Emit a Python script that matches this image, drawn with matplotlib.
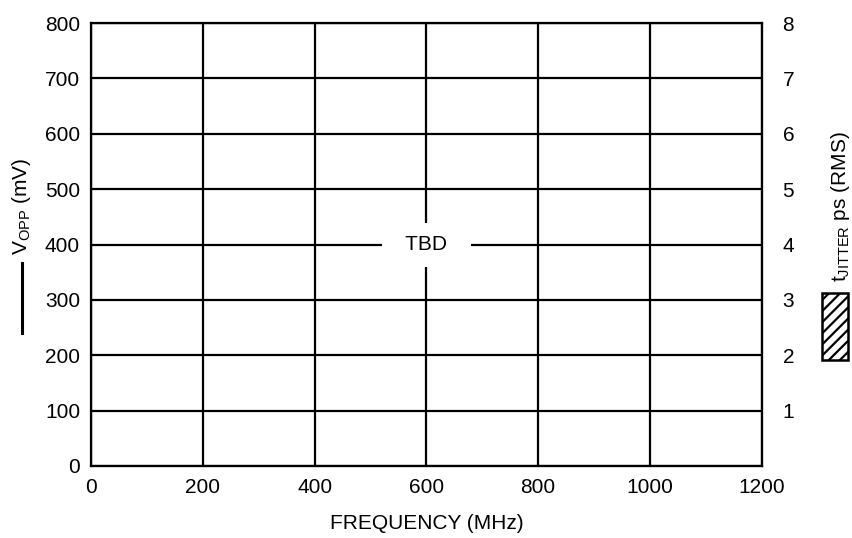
import matplotlib
matplotlib.use("Agg")
import matplotlib.pyplot as plt
from matplotlib.lines import Line2D
from matplotlib.patches import Rectangle

plt.rcParams['font.family'] = ['Liberation Sans', 'DejaVu Sans']
plt.rcParams['hatch.linewidth'] = 1.6

# Dane wykresu (brak serii - tylko siatka i "TBD")
freq_ticks = [0, 200, 400, 600, 800, 1000, 1200]
vopp_ticks = [0, 100, 200, 300, 400, 500, 600, 700, 800]
jitter_ticks = [1, 2, 3, 4, 5, 6, 7, 8]
note_text = "TBD"
note_pos = (600, 400)

FS = 15

fig = plt.figure(figsize=(8.52, 5.38), dpi=100)
ax = fig.add_axes([0.107, 0.134, 0.787, 0.823])

ax.set_xlim(freq_ticks[0], freq_ticks[-1])
ax.set_ylim(vopp_ticks[0], vopp_ticks[-1])
ax.set_xticks(freq_ticks)
ax.set_yticks(vopp_ticks)
ax.grid(True, color='black', linewidth=1.6)
ax.tick_params(axis='x', length=0, labelsize=FS, pad=9)
ax.tick_params(axis='y', length=0, labelsize=FS, pad=8)
for s in ax.spines.values():
    s.set_linewidth(1.6)

ax2 = ax.twinx()
ax2.set_ylim(0, 8)
ax2.set_yticks(jitter_ticks)
ax2.tick_params(length=0, labelsize=FS, pad=15)

ax.set_xlabel("FREQUENCY (MHz)", fontsize=FS, labelpad=12)

ax.text(note_pos[0], note_pos[1], "  " + note_text + "  ", ha='center', va='center',
        fontsize=FS, bbox=dict(facecolor='white', edgecolor='none', boxstyle='square,pad=0.6'),
        zorder=5)

# lewa etykieta osi z symbolem linii
fig.text(0.025, 0.526, r"$\mathregular{V_{OPP}}$ (mV)", rotation=90, fontsize=FS,
         ha='center', va='bottom')
fig.add_artist(Line2D([0.026, 0.026], [0.381, 0.511], color='black', linewidth=2.2,
                      transform=fig.transFigure))

# prawa etykieta osi z kreskowanym prostokatem
fig.text(0.987, 0.476, r"$\mathregular{t_{JITTER}}$ ps (RMS)", rotation=90, fontsize=FS,
         ha='center', va='bottom')
fig.add_artist(Rectangle((0.965, 0.331), 0.030, 0.124, facecolor='white', edgecolor='black',
                         hatch='///', linewidth=1.8, transform=fig.transFigure))

fig.savefig("out.png", dpi=100)
